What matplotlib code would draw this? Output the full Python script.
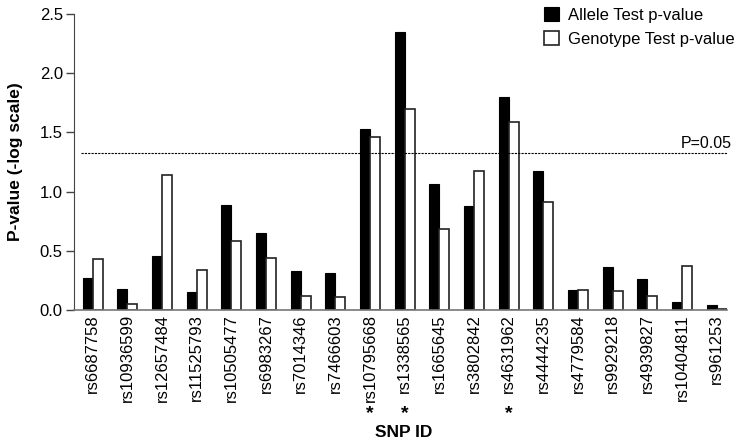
import matplotlib
matplotlib.use('Agg')
import matplotlib.pyplot as plt
import numpy as np

# SNP ids along the x axis
snp_ids = ['rs6687758', 'rs10936599', 'rs12657484', 'rs11525793', 'rs10505477',
           'rs6983267', 'rs7014346', 'rs7466603', 'rs10795668', 'rs1338565',
           'rs1665645', 'rs3802842', 'rs4631962', 'rs4444235', 'rs4779584',
           'rs9929218', 'rs4939827', 'rs10404811', 'rs961253']

# -log10 p-values
allele_p = [0.27, 0.18, 0.46, 0.15, 0.89, 0.65, 0.33, 0.31, 1.53, 2.35,
            1.06, 0.88, 1.80, 1.17, 0.17, 0.36, 0.26, 0.07, 0.04]
genotype_p = [0.43, 0.05, 1.14, 0.34, 0.58, 0.44, 0.12, 0.11, 1.46, 1.70,
              0.68, 1.17, 1.59, 0.91, 0.17, 0.16, 0.12, 0.37, 0.01]

significant = ['rs10795668', 'rs1338565', 'rs4631962']
threshold = 1.33

plt.rcParams['font.family'] = ['Liberation Sans', 'DejaVu Sans']

fig = plt.figure(figsize=(7.39, 4.40), dpi=100)
ax = fig.add_axes([0.1001, 0.2955, 0.8837, 0.6727])

x = np.arange(len(snp_ids))
w = 0.29
ax.bar(x - w / 2, allele_p, w, color='black', edgecolor='black', linewidth=0.8,
       label='Allele Test p-value')
ax.bar(x + w / 2, genotype_p, w, color='white', edgecolor='#222222', linewidth=1.2,
       label='Genotype Test p-value')

# significance threshold
ax.plot([-0.35, 18.3], [threshold, threshold], color='black', linestyle=(0, (2, 1)),
        linewidth=0.8)
ax.text(18.45, threshold + 0.01, 'P=0.05', ha='right', va='bottom', fontsize=11.5,
        clip_on=False)

ax.set_xlim(-0.54, 18.3)
ax.set_ylim(0, 2.5)
ax.set_yticks([0, 0.5, 1.0, 1.5, 2.0, 2.5])
ax.set_yticklabels(['0.0', '0.5', '1.0', '1.5', '2.0', '2.5'], fontsize=12)
ax.set_xticks(x)
ax.set_xticklabels(snp_ids, rotation=90, fontsize=12)
ax.tick_params(axis='x', length=0, pad=3)
ax.tick_params(axis='y', length=6, width=1, color='#444444', pad=2)

for side in ['top', 'right']:
    ax.spines[side].set_visible(False)
ax.spines['left'].set_color('#444444')
ax.spines['bottom'].set_color('#777777')
ax.spines['bottom'].set_linewidth(1.2)

ax.set_ylabel('P-value (-log scale)', fontsize=12.5, fontweight='bold', labelpad=12)
ax.set_xlabel('SNP ID', fontsize=12.5, fontweight='bold')
ax.xaxis.set_label_coords(0.505, -0.39)

# asterisks under significant SNPs
for name in significant:
    i = snp_ids.index(name)
    ax.text(i, -0.80, '*', ha='center', va='top', fontsize=14, fontweight='bold',
            clip_on=False)

leg = ax.legend(loc='upper left', bbox_to_anchor=(0.71, 1.045), frameon=False,
                fontsize=12, handlelength=0.9, handleheight=0.9, handletextpad=0.5,
                labelspacing=0.5, borderaxespad=0)

fig.savefig('out.png', dpi=100)
